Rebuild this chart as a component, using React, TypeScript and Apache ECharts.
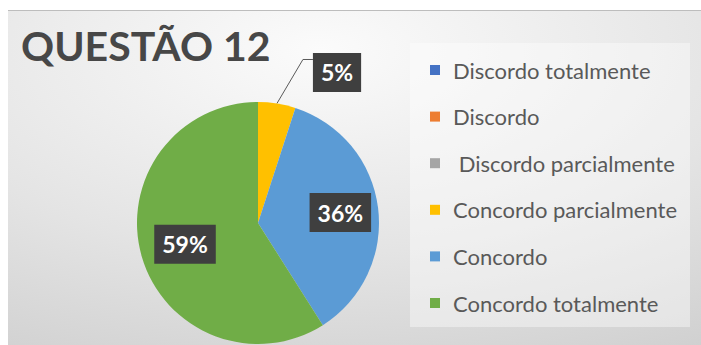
import React, { useEffect, useRef } from "react";
import * as echarts from "echarts";

const categories = [
  "Discordo totalmente",
  "Discordo",
  " Discordo parcialmente",
  "Concordo parcialmente",
  "Concordo",
  "Concordo totalmente",
];
const percentages = [0, 0, 0, 5, 36, 59];
const colors = ["#4472C4", "#ED7D31", "#A5A5A5", "#FFC000", "#5B9BD5", "#70AD47"];
const titleText = "QUESTÃO 12";

const W = 701;
const H = 345;
const CENTER = [258, 223];
const RADIUS = 121;
// desired label distances from pie center (style, per slice index)
const insideDist: Record<number, number> = { 4: 83, 5: 76 };

export default function App() {
  const ref = useRef<HTMLDivElement>(null);
  useEffect(() => {
    document.body.style.margin = "0";
    if (!ref.current) return;
    const chart = echarts.init(ref.current, null, { renderer: "svg" });
    const data = categories.map((name, i) => {
      const v = percentages[i];
      const item: any = { name, value: v, itemStyle: { color: colors[i] } };
      if (v === 0) {
        item.label = { show: false };
        item.labelLine = { show: false };
      } else if (i === 3) {
        item.label = { position: "outside" };
        item.labelLine = { show: true, length: 40, length2: 10 };
      }
      return item;
    });
    chart.setOption({
      animation: false,
      graphic: [
        {
          type: "rect",
          z: -10,
          silent: true,
          shape: { x: 8, y: 10, width: W - 8, height: H - 10 },
          style: {
            fill: new echarts.graphic.RadialGradient(0.45, 0.12, 1.35, [
              { offset: 0, color: "#fbfbfb" },
              { offset: 0.45, color: "#e4e4e4" },
              { offset: 1, color: "#c2c2c2" },
            ]),
          },
        },
        {
          type: "line",
          z: -9,
          silent: true,
          shape: { x1: 8, y1: 10.5, x2: W, y2: 10.5 },
          style: { stroke: "#bdbdbd", lineWidth: 1 },
        },
        {
          type: "rect",
          z: -8,
          silent: true,
          shape: { x: 410, y: 43, width: 280, height: 284 },
          style: { fill: "rgba(255,255,255,0.4)" },
        },
      ],
      title: {
        text: titleText,
        left: 21,
        top: 25,
        padding: 0,
        textStyle: {
          fontFamily: "Lato",
          fontWeight: "bold",
          fontSize: 41,
          lineHeight: 41,
          color: "#474747",
        },
      },
      legend: {
        orient: "vertical",
        left: 430,
        top: 58,
        padding: 0,
        icon: "rect",
        itemWidth: 10,
        itemHeight: 10,
        itemGap: 22.6,
        data: categories,
        selectedMode: false,
        textStyle: {
          fontFamily: "Lato",
          fontSize: 22,
          lineHeight: 24,
          color: "#595959",
          padding: [0, 0, 0, 8],
        },
      },
      series: [
        {
          type: "pie",
          center: CENTER,
          radius: [0, RADIUS],
          startAngle: 90,
          clockwise: true,
          avoidLabelOverlap: false,
          data,
          label: {
            show: true,
            position: "inside",
            formatter: (p: any) => Math.round(p.percent) + "%",
            color: "#ffffff",
            fontFamily: "Lato",
            fontWeight: "bold",
            fontSize: 23,
            lineHeight: 23,
            backgroundColor: "#3f3f3f",
            padding: [8, 8, 8, 8],
          },
          labelLine: {
            show: false,
            lineStyle: { color: "#5a5a5a", width: 1 },
          },
          labelLayout: (p: any) => {
            const i = p.dataIndex;
            if (percentages[i] === 0) return {};
            if (i === 3 && p.labelLinePoints) {
              const [x0, y0] = p.labelLinePoints[0];
              return {
                x: x0 + 36,
                y: y0 - 31,
                align: "left",
                verticalAlign: "middle",
                labelLinePoints: [
                  [x0, y0],
                  [x0 + 26, y0 - 44],
                  [x0 + 36, y0 - 44],
                ],
              };
            }
            const d = insideDist[i];
            if (d === undefined) return {};
            const r = p.labelRect;
            const cx = r.x + r.width / 2;
            const cy = r.y + r.height / 2;
            const vx = cx - CENTER[0];
            const vy = cy - CENTER[1];
            const len = Math.sqrt(vx * vx + vy * vy) || 1;
            return { dx: (vx / len) * (d - len), dy: (vy / len) * (d - len) };
          },
        },
      ],
    });
    return () => chart.dispose();
  }, []);
  return <div ref={ref} style={{ width: W, height: H, background: "#ffffff" }} />;
}
